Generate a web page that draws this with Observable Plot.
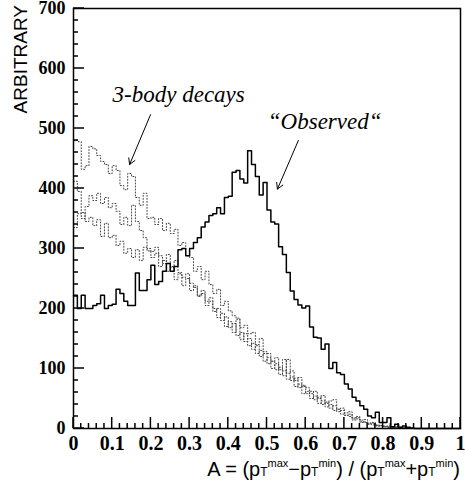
<!DOCTYPE html>
<html><head><meta charset="utf-8">
<script src="https://cdn.jsdelivr.net/npm/d3@7"></script>
<script src="https://cdn.jsdelivr.net/npm/@observablehq/plot@0.6"></script>
<style>html,body{margin:0;padding:0;background:#fff}#chart svg{display:block}</style>
</head><body><div id="chart"></div>
<script>
// 100 bins of width 0.01 over A in [0,1]
const observed = [222,200,222,200,200,205,208,222,200,205,
 207,232,225,212,205,205,259,230,230,248,
 272,240,245,262,275,262,270,298,300,288,
 300,310,318,336,344,355,358,368,358,385,
 387,427,430,416,409,463,440,420,389,410,
 364,344,341,303,290,260,229,215,206,201,
 204,169,152,151,132,141,100,110,93,90,
 74,66,52,46,38,32,21,18,27,10,
 10,18,3,7,2,4,2,1,0,0,
 0,0,0,0,0,0,0,0,0,0];
const decays1 = [480,478,432,438,470,466,455,445,440,425,
 438,430,405,398,425,420,385,372,392,350,
 352,340,350,330,342,325,332,305,310,288,
 285,262,270,248,262,240,225,232,205,212,
 196,188,184,168,172,158,160,140,150,128,
 125,112,118,98,115,92,96,80,85,70,
 68,58,62,50,55,42,46,48,32,34,
 26,28,18,20,14,15,9,10,6,5,
 4,4,2,3,1,1,1,0,0,0,
 0,0,0,0,0,0,0,0,0,0];
const decays2 = [412,395,350,370,388,380,392,375,385,368,
 375,362,340,352,338,372,345,330,318,300,
 295,302,288,275,290,268,280,260,252,258,
 242,235,222,230,212,218,200,185,192,170,
 178,160,182,148,158,138,142,125,130,112,
 118,100,108,90,96,82,86,70,74,58,
 62,50,54,42,46,36,40,30,32,24,
 22,20,14,16,10,11,7,6,4,5,
 3,2,3,1,2,1,0,0,0,0,
 0,0,0,0,0,0,0,0,0,0];
const decays3 = [335,358,360,345,352,338,348,320,342,318,
 322,305,312,292,300,285,298,280,302,296,
 285,292,270,280,262,270,248,258,238,250,
 230,238,220,225,205,212,195,200,180,186,
 168,175,155,160,145,150,132,138,120,125,
 108,112,98,102,88,115,80,84,68,72,
 58,62,48,52,40,44,34,38,28,30,
 22,24,16,18,12,10,8,9,5,4,
 3,3,2,2,1,1,1,0,0,0,
 0,0,0,0,0,0,0,0,0,0];
const binWidth = 0.01;
const xTicks = [0,0.1,0.2,0.3,0.4,0.5,0.6,0.7,0.8,0.9,1];
const xMinor = d3.range(1, 50).map(i => i*0.02).filter(v => Math.abs(v*10 - Math.round(v*10)) > 1e-6);
const yTicks = [0,100,200,300,400,500,600,700];
const yMinor = d3.range(20, 700, 20).filter(v => v % 100 !== 0);
const labels = [
  {text: "3-body decays", x: 0.101, y: 556},
  {text: "\u201CObserved\u201C", x: 0.502, y: 511}
];
const arrows = [
  {x1: 0.199, y1: 523, x2: 0.145, y2: 440},
  {x1: 0.581, y1: 480, x2: 0.527, y2: 399}
];

function steps(values) {
  const rows = values.map((v, i) => ({x: i*binWidth, y: v}));
  rows.push({x: values.length*binWidth, y: values[values.length-1]});
  return rows;
}

const serif = "Liberation Serif";
const sans = "Liberation Sans";
const W = 465, H = 491, ML = 73, MR = 5, MT = 8, MB = 63;
const dotted = {x: "x", y: "y", curve: "step-after", stroke: "#444", strokeWidth: 1, strokeDasharray: "1,2"};
const svg = Plot.plot({
  width: W, height: H,
  marginLeft: ML, marginRight: MR, marginTop: MT, marginBottom: MB,
  x: {domain: [0, 1], axis: null},
  y: {domain: [0, 700], axis: null},
  marks: [
    Plot.line(steps(decays1), dotted),
    Plot.line(steps(decays2), dotted),
    Plot.line(steps(decays3), dotted),
    Plot.line(steps(observed), {x: "x", y: "y", curve: "step-after", stroke: "#000", strokeWidth: 1.5}),
    Plot.text(yTicks, {x: 0, y: d => d, text: d => String(d), textAnchor: "end", dx: -8, fontSize: 18, fontWeight: "bold", fontFamily: serif, fill: "#000"}),
    Plot.text(xTicks, {x: d => d, y: 0, text: d => String(d), lineAnchor: "top", dy: 7, fontSize: 20, fontWeight: "bold", fontFamily: serif, fill: "#000"}),
    Plot.frame({stroke: "#000", strokeWidth: 1.5}),
    Plot.text(labels, {x: "x", y: "y", text: "text", textAnchor: "start", fontSize: 23, fontStyle: "italic", fontFamily: serif, fill: "#000"}),
    Plot.arrow(arrows, {x1: "x1", y1: "y1", x2: "x2", y2: "y2", stroke: "#000", strokeWidth: 1, headLength: 10})
  ]
});

const s = d3.select(svg);
s.selectAll("text").each(function() {
  const g = this.closest("g[font-family]");
  const fam = this.getAttribute("font-family") || (g && g.getAttribute("font-family"));
  if (fam) d3.select(this).style("font-family", fam);
});
// inward ROOT-style ticks, positioned through Plot's own scales
const xs = svg.scale("x"), ys = svg.scale("y");
const tg = s.append("g").attr("stroke", "#000").attr("stroke-width", 1.5);
const x0 = xs.apply(0), y0 = ys.apply(0);
for (const v of yTicks) tg.append("line").attr("x1", x0).attr("x2", x0 + 11).attr("y1", ys.apply(v)).attr("y2", ys.apply(v));
for (const v of yMinor) tg.append("line").attr("x1", x0).attr("x2", x0 + 5).attr("y1", ys.apply(v)).attr("y2", ys.apply(v));
for (const v of xTicks) tg.append("line").attr("y1", y0).attr("y2", y0 - 11).attr("x1", xs.apply(v)).attr("x2", xs.apply(v));
for (const v of xMinor) tg.append("line").attr("y1", y0).attr("y2", y0 - 5).attr("x1", xs.apply(v)).attr("x2", xs.apply(v));

// y-axis title
s.append("text")
  .attr("transform", "translate(27,5) rotate(-90)")
  .attr("text-anchor", "end")
  .attr("font-size", 19)
  .attr("fill", "#000")
  .style("font-family", sans)
  .text("ARBITRARY");
// x-axis title
const t = s.append("text")
  .attr("x", 460).attr("y", 476)
  .attr("text-anchor", "end")
  .attr("font-size", 20)
  .attr("fill", "#000")
  .style("font-family", sans);
const parts = [
  ["A = (p", 20, 0], ["T", 12, 0], ["max", 11, -9], ["\u2212p", 20, 9], ["T", 12, 0], ["min", 11, -9],
  [") / (p", 20, 9], ["T", 12, 0], ["max", 11, -9], ["+p", 20, 9], ["T", 12, 0], ["min", 11, -9], [")", 20, 9]
];
for (const [txt, fs, dy] of parts) t.append("tspan").attr("font-size", fs).attr("dy", dy).text(txt);

document.getElementById("chart").appendChild(svg);
</script>
</body></html>
